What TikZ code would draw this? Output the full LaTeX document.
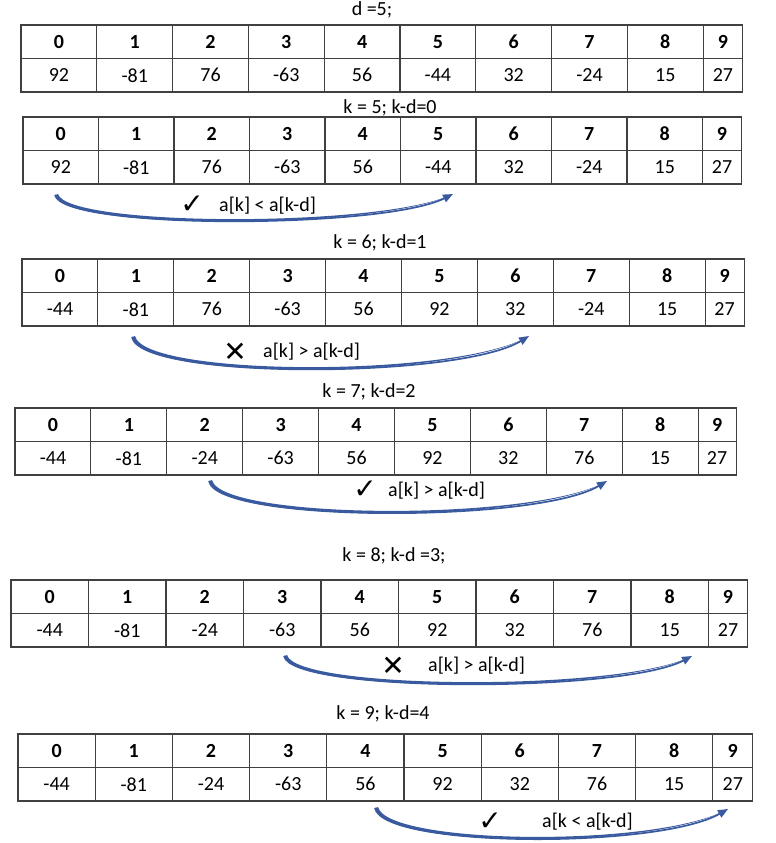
\documentclass[tikz,border=0pt]{standalone}
\usepackage{fontspec}
\setmainfont{Carlito}
\newfontfamily\symbfont{DejaVu Sans}
\usetikzlibrary{arrows.meta}

\definecolor{arcblue}{RGB}{58,90,160}

% one array: #1 name, #2 left, #3 top, #4 cell width, #5 last cell width, #6 values
\newcommand{\shelltable}[6]{%
	\foreach \v [count=\i from 0] in {#6} {
		\pgfmathsetmacro{\cw}{\i<9 ? #4 : #5}
		\pgfmathsetmacro{\cx}{#2 + \i*#4 + \cw/2}
		\pgfmathsetmacro{\iy}{#3 + \rowh/2}
		\pgfmathsetmacro{\vy}{#3 + 1.5*\rowh}
		\node[i-cell,minimum width=\cw pt] (#1i\i) at (\cx,\iy) {\i};
		\node[v-cell,minimum width=\cw pt] (#1v\i) at (\cx,\vy) {\v};
	}}

% swept arc from #1 to #2, depth #3
\newcommand{\swaparc}[3]{%
	\fill[arcblue] (#1) .. controls +(8,#3+1) and +(-70,#3+1) .. (#2)
		.. controls +(-70,#3-1) and +(9,#3-2) .. ([shift={(3,-1)}]#1) -- cycle;
	\draw[swap] (#1) .. controls +(8,#3) and +(-70,#3) .. (#2);}

\begin{document}
\begin{tikzpicture}[x=1pt,y=-1pt]
	\fontsize{20}{23}\selectfont
	\def \rowh{33.5}

	\tikzstyle{i-cell}=[draw=black!75,line width=1.1pt,inner sep=0pt,minimum height=\rowh pt,font=\bfseries]
	\tikzstyle{v-cell}=[draw=black!75,line width=1.1pt,inner sep=0pt,minimum height=\rowh pt]
	\tikzstyle{caption}=[inner sep=0pt]
	\tikzstyle{tick}=[inner sep=0pt,font=\symbfont\fontsize{28}{30}\selectfont]
	\tikzstyle{rel}=[inner sep=0pt,anchor=west]
	\tikzstyle{swap}=[draw=arcblue,line width=1.7pt,-{Triangle[length=10pt,width=8pt]}]

	\fill[white] (0,0) rectangle (776,843);
	\useasboundingbox (0,0) rectangle (776,843);

	% captions
	\node[caption] (k0) at (372,10)  {d =5;};
	\node[caption] (k1) at (390,108) {k = 5; k-d=0};
	\node[caption] (k2) at (380,243) {k = 6; k-d=1};
	\node[caption] (k3) at (369,392) {k = 7; k-d=2};
	\node[caption] (k4) at (394,556) {k = 8; k-d =3;};
	\node[caption] (k5) at (383,714) {k = 9; k-d=4};

	% arrays
	\shelltable{t0}{21}{25}{75.8}{39.5}{92,-81,76,-63,56,-44,32,-24,15,27}
	\shelltable{t1}{23}{117}{75.5}{39}{92,-81,76,-63,56,-44,32,-24,15,27}
	\shelltable{t2}{22}{259}{75.9}{39}{-44,-81,76,-63,56,92,32,-24,15,27}
	\shelltable{t3}{15}{408}{75.9}{38}{-44,-81,-24,-63,56,92,32,76,15,27}
	\shelltable{t4}{11}{580}{77.5}{39}{-44,-81,-24,-63,56,92,32,76,15,27}
	\shelltable{t5}{18}{734}{77.2}{40}{-44,-81,-24,-63,56,92,32,76,15,27}

	% comparisons
	\coordinate (s1) at (55,195);
	\coordinate (e1) at (453,194);
	\coordinate (s2) at (132,337);
	\coordinate (e2) at (529,336);
	\coordinate (s3) at (209,481);
	\coordinate (e3) at (607,481);
	\coordinate (s4) at (284,656);
	\coordinate (e4) at (692,656);
	\coordinate (s5) at (375,808);
	\coordinate (e5) at (728,809);

	\swaparc{s1}{e1}{35}
	\swaparc{s2}{e2}{43}
	\swaparc{s3}{e3}{42}
	\swaparc{s4}{e4}{37}
	\swaparc{s5}{e5}{40}

	\node[tick] (c1) at (192,205) {✓};
	\node[rel]  (r1) at (219,206) {a[k] < a[k-d]};
	\node[tick] (c2) at (235,352) {✕};
	\node[rel]  (r2) at (263,352) {a[k] > a[k-d]};
	\node[tick] (c3) at (365,490) {✓};
	\node[rel]  (r3) at (388,491) {a[k] > a[k-d]};
	\node[tick] (c4) at (393,666) {✕};
	\node[rel]  (r4) at (428,666) {a[k] > a[k-d]};
	\node[tick] (c5) at (490,822) {✓};
	\node[rel]  (r5) at (542,822) {a[k < a[k-d]};
\end{tikzpicture}
\end{document}
